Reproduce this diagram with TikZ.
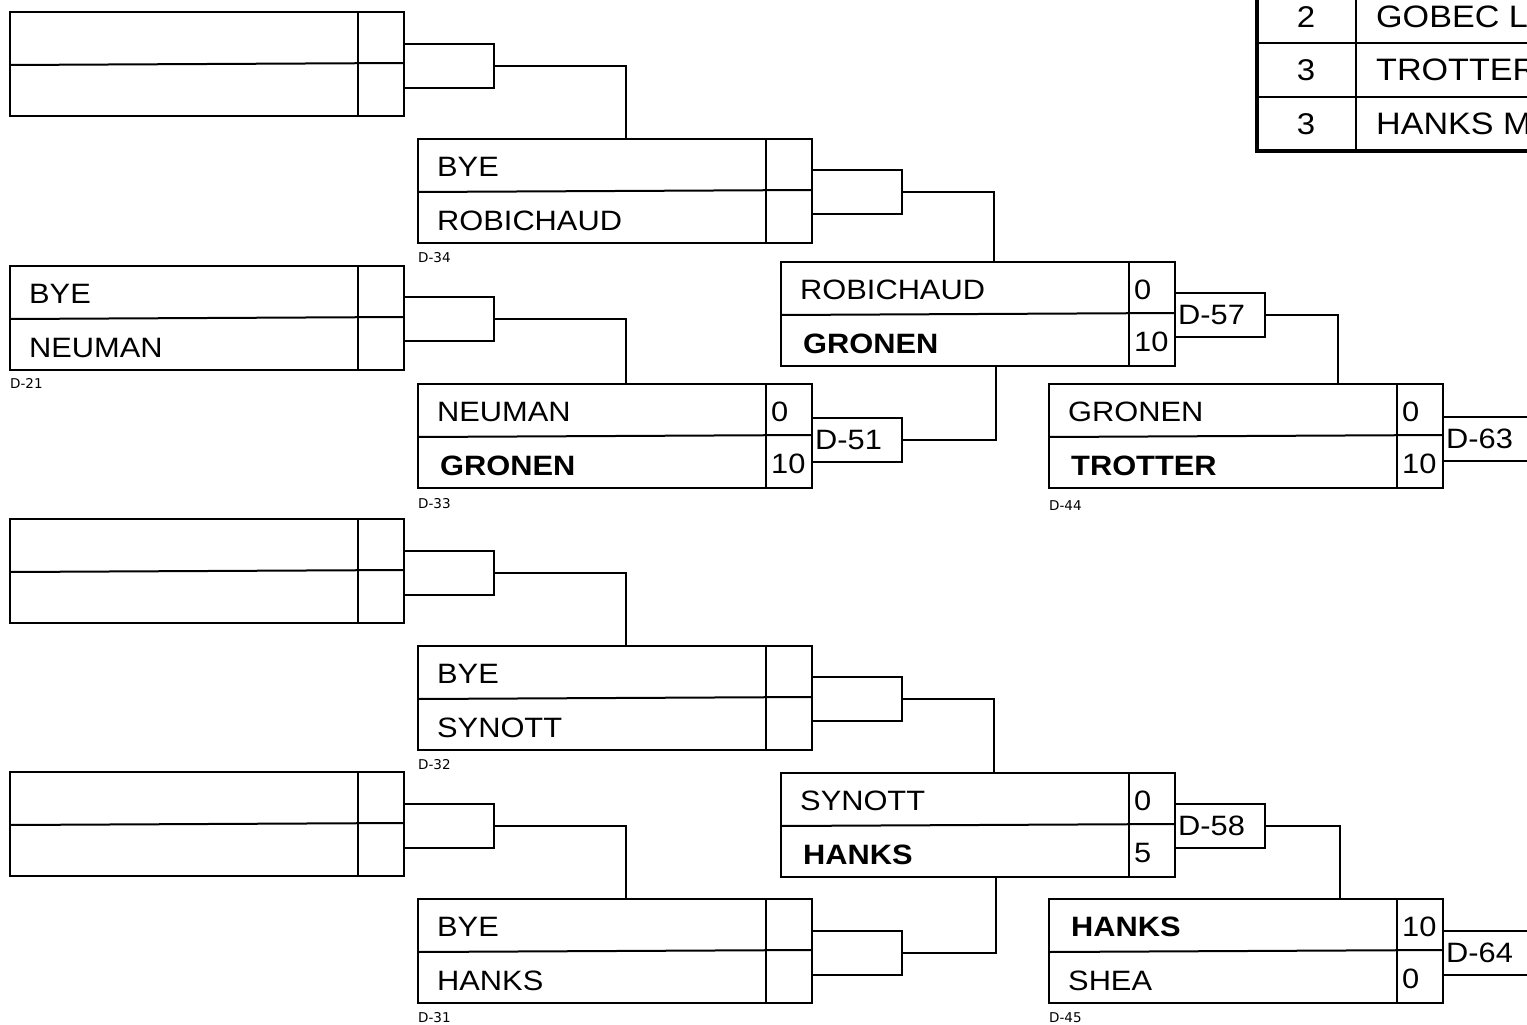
\documentclass[tikz,border=0pt]{standalone}
\usepackage{fontspec}
\setmainfont[FakeStretch=1.1]{Liberation Sans}
\newfontfamily\lblfont{DejaVu Sans}
\tikzset{
  x=1pt,y=-1pt,
  ln/.style={line width=2pt},
  mbox/.style={draw,line width=2pt,minimum width=394pt,minimum height=104pt,inner sep=0pt,outer sep=0pt,anchor=north west},
  brk/.style={draw,line width=2pt,minimum width=90pt,minimum height=44pt,inner sep=0pt,outer sep=0pt,anchor=north west},
  nm/.style={anchor=base west,inner sep=0pt,font=\fontsize{28}{30}\selectfont},
  nmb/.style={anchor=base west,inner sep=0pt,xshift=3pt,font=\fontsize{28}{30}\selectfont\bfseries},
  sc/.style={anchor=base west,inner sep=0pt,font=\fontsize{28}{30}\selectfont},
  lbl/.style={anchor=base west,inner sep=0pt,font=\lblfont\fontsize{13.5}{15}\selectfont},
  btx/.style={anchor=west,inner sep=0pt,xshift=3pt,font=\fontsize{28}{30}\selectfont},
  ttx/.style={anchor=base west,inner sep=0pt,font=\fontsize{31}{33}\selectfont},
  tnum/.style={anchor=base,inner sep=0pt,font=\fontsize{30}{32}\selectfont}
}
% name, left, top, text1, text2, score1, score2, style1, style2
\newcommand\mbx[9]{%
  \node[mbox] (#1) at (#2,#3) {};
  \draw[ln] ([xshift=-46pt]#1.north east) -- ([xshift=-46pt]#1.south east);
  \draw[ln] ([yshift=-1pt]#1.west) -- ([yshift=1pt]#1.east);
  \node[#8] (#1-a) at (#2+19,#3+37) {#4};
  \node[#9] (#1-b) at (#2+19,#3+91) {#5};
  \node[sc] (#1-sa) at (#2+353,#3+37) {#6};
  \node[sc] (#1-sb) at (#2+353,#3+89) {#7};
}
\begin{document}
\begin{tikzpicture}
\useasboundingbox (0,0) rectangle (1527,1025);
\fill[white] (0,0) rectangle (1527,1025);

% ---- top half ----
\mbx{mA}{10}{12}{}{}{}{}{nm}{nm}
\mbx{m34}{418}{139}{BYE}{ROBICHAUD}{}{}{nm}{nm}
\node[lbl] (l34) at (418,262) {D-34};
\mbx{m21}{10}{266}{BYE}{NEUMAN}{}{}{nm}{nm}
\node[lbl] (l21) at (10,388) {D-21};
\mbx{m33}{418}{384}{NEUMAN}{GRONEN}{0}{10}{nm}{nmb}
\node[lbl] (l33) at (418,508) {D-33};
\mbx{mR}{781}{262}{ROBICHAUD}{GRONEN}{0}{10}{nm}{nmb}
\mbx{m44}{1049}{384}{GRONEN}{TROTTER}{0}{10}{nm}{nmb}
\node[lbl] (l44) at (1049,510) {D-44};

\node[brk] (bA) at (404,44) {};
\node[brk] (b34) at (812,170) {};
\node[brk] (b21) at (404,297) {};
\node[brk] (b33) at (812,418) {};
\node[btx] (t51) at (b33.west) {D-51};
\node[brk] (bR) at (1175,293) {};
\node[btx] (t57) at (bR.west) {D-57};
\node[brk] (b44) at (1443,417) {};
\node[btx] (t63) at (b44.west) {D-63};

\draw[ln] (bA.east) -| ([xshift=208pt]m34.north west);
\draw[ln] (b34.east) -| ([xshift=213pt]mR.north west);
\draw[ln] (b21.east) -| ([xshift=208pt]m33.north west);
\draw[ln] (b33.east) -| ([xshift=215pt]mR.south west);
\draw[ln] (bR.east) -| ([xshift=289pt]m44.north west);

% ---- bottom half ----
\mbx{mB}{10}{519}{}{}{}{}{nm}{nm}
\mbx{m32}{418}{646}{BYE}{SYNOTT}{}{}{nm}{nm}
\node[lbl] (l32) at (418,769) {D-32};
\mbx{mC}{10}{772}{}{}{}{}{nm}{nm}
\mbx{m31}{418}{899}{BYE}{HANKS}{}{}{nm}{nm}
\node[lbl] (l31) at (418,1022) {D-31};
\mbx{mS}{781}{773}{SYNOTT}{HANKS}{0}{5}{nm}{nmb}
\mbx{m45}{1049}{899}{HANKS}{SHEA}{10}{0}{nmb}{nm}
\node[lbl] (l45) at (1049,1022) {D-45};

\node[brk] (bB) at (404,551) {};
\node[brk] (b32) at (812,677) {};
\node[brk] (bC) at (404,804) {};
\node[brk] (b31) at (812,931) {};
\node[brk] (bS) at (1175,804) {};
\node[btx] (t58) at (bS.west) {D-58};
\node[brk] (b45) at (1443,931) {};
\node[btx] (t64) at (b45.west) {D-64};

\draw[ln] (bB.east) -| ([xshift=208pt]m32.north west);
\draw[ln] (b32.east) -| ([xshift=213pt]mS.north west);
\draw[ln] (bC.east) -| ([xshift=208pt]m31.north west);
\draw[ln] (b31.east) -| ([xshift=215pt]mS.south west);
\draw[ln] (bS.east) -| ([xshift=291pt]m45.north west);

% ---- table ----
\draw[line width=2.5pt] (1255,43) -- (1540,43);
\draw[line width=2.5pt] (1255,97) -- (1540,97);
\draw[line width=2pt] (1356,-11) -- (1356,151);
\draw[line width=4pt] (1257,-11) -- (1257,150.5) -- (1540,150.5);
\node[tnum] (n1) at (1306,28) {2};
\node[ttx] (p1) at (1376,28) {GOBEC L};
\node[tnum] (n2) at (1306,81) {3};
\node[ttx] (p2) at (1376,81) {TROTTER};
\node[tnum] (n3) at (1306,135) {3};
\node[ttx] (p3) at (1376,135) {HANKS M};
\end{tikzpicture}
\end{document}
